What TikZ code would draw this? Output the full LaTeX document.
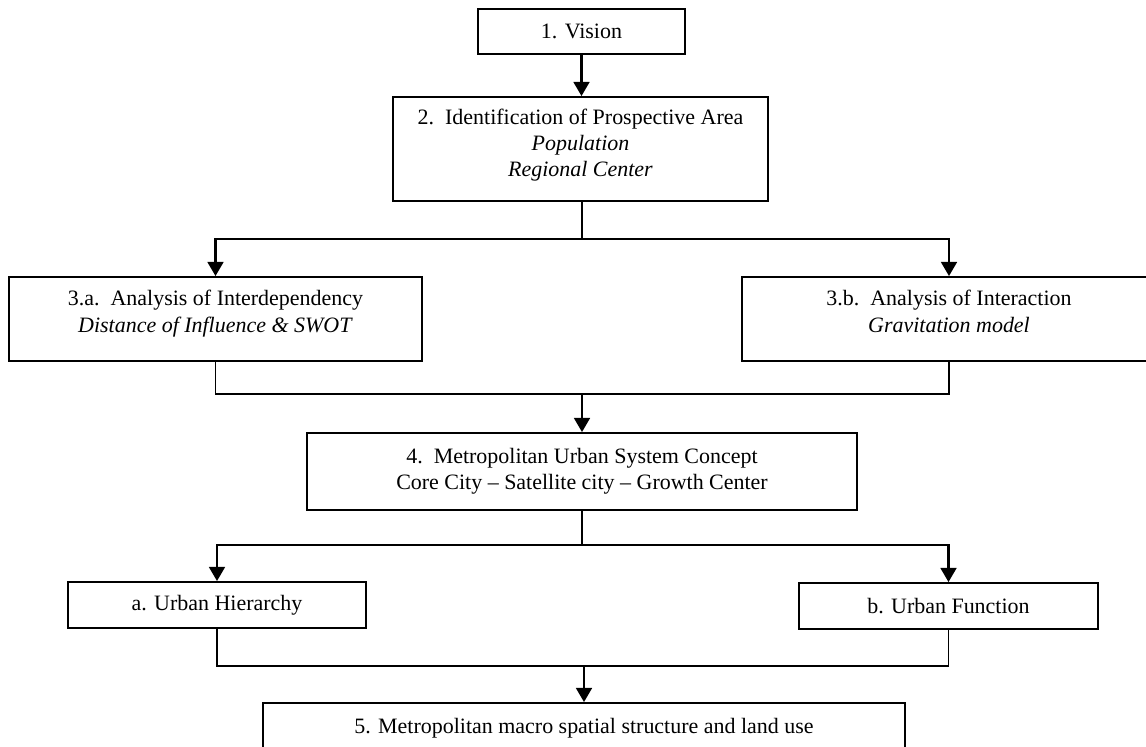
\documentclass[tikz,border=0pt]{standalone}
\usepackage{fontspec}
\setmainfont{Liberation Serif}
\usepackage{tikz}
\usetikzlibrary{arrows.meta,positioning}

\tikzset{
  stepbox/.style={draw=black, line width=1.1pt, rectangle, align=center,
    inner sep=0pt, font=\fontsize{12.5}{15}\selectfont},
  flow/.style={black, line width=1.2pt, -{Triangle[length=8pt,width=9pt]}},
  link/.style={black, line width=0.7pt},
}

\begin{document}
\begin{tikzpicture}[x=0.02cm, y=-0.02cm]
                \useasboundingbox (0,0) rectangle (1146,747);
                % boxes
                \node [stepbox, minimum width=4.14cm, minimum height=0.9cm] (vision) at (581.5,31.5) {1. Vision};
                \node [stepbox, minimum width=7.5cm, minimum height=2.08cm] (area) at (580.5,149)
                      {2.\ \ Identification of Prospective Area\\ \textit{Population}\\ \textit{Regional Center}\\[-8pt]};
                \node [stepbox, minimum width=8.26cm, minimum height=1.68cm] (interdep) at (215.5,319)
                      {3.a.\ \ Analysis of Interdependency\\ \textit{Distance of Influence \& SWOT}\\[-6pt]};
                \node [stepbox, minimum width=8.28cm, minimum height=1.68cm] (interact) at (949,319)
                      {3.b.\ \ Analysis of Interaction\\ \textit{Gravitation model}\\[-6pt]};
                \node [stepbox, minimum width=11cm, minimum height=1.54cm] (concept) at (582,471.5)
                      {4.\ \ Metropolitan Urban System Concept\\ Core City -- Satellite city -- Growth Center};
                \node [stepbox, minimum width=5.96cm, minimum height=0.92cm] (hierarchy) at (217,605) {a. Urban Hierarchy};
                \node [stepbox, minimum width=5.98cm, minimum height=0.92cm] (function) at (948.5,606) {b. Urban Function};
                \node [stepbox, minimum width=12.84cm, minimum height=1cm] (structure) at (584,728)
                      {5. Metropolitan macro spatial structure and land use};
                % junctions
                \coordinate (split1) at (582,239);
                \coordinate (merge1) at (582,394);
                \coordinate (split2) at (582,545);
                \coordinate (merge2) at (584,666);
                % connectors
                \draw [flow] (vision) -- (vision |- area.north);
                \draw [link] (area.south -| split1) -- (split1);
                \draw [flow] (split1) -| (interdep.north);
                \draw [flow] (split1) -| (interact.north);
                \draw [link] (interdep.south) |- (merge1) -| (interact.south);
                \draw [flow] (merge1) -- (merge1 |- concept.north);
                \draw [link] (concept.south -| split2) -- (split2);
                \draw [flow] (split2) -| (hierarchy.north);
                \draw [flow] (split2) -| (function.north);
                \draw [link] (hierarchy.south) |- (merge2) -| (function.south);
                \draw [flow] (merge2) -- (merge2 |- structure.north);
            \end{tikzpicture}
\end{document}
